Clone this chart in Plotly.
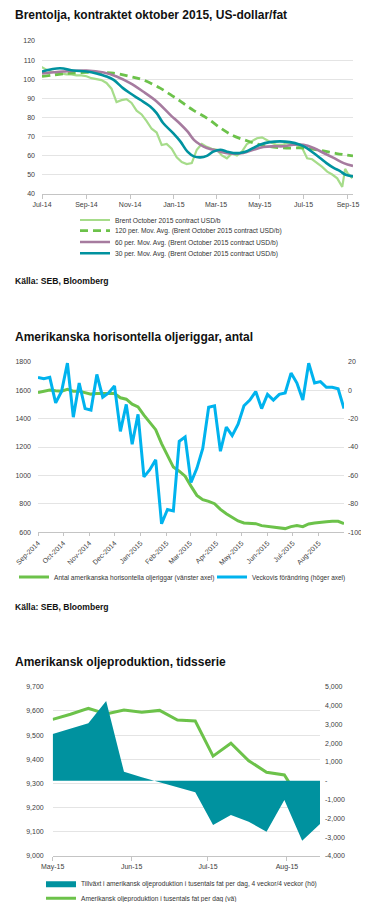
import plotly.graph_objects as go

W, H = 369, 910
OFF = 8                      # browser default body margin
FW, FH = W - OFF, H - 2 * OFF
FONT = "Liberation Sans, Arial, sans-serif"

# ---------------- Chart 1: Brent ----------------
brent_dates = ["2014-06-30","2014-07-07","2014-07-14","2014-07-21","2014-07-28","2014-08-04","2014-08-11",
    "2014-08-18","2014-08-25","2014-09-01","2014-09-08","2014-09-15","2014-09-22","2014-09-29","2014-10-06",
    "2014-10-13","2014-10-20","2014-10-27","2014-11-03","2014-11-10","2014-11-17","2014-11-24","2014-12-01",
    "2014-12-08","2014-12-15","2014-12-22","2014-12-29","2015-01-05","2015-01-12","2015-01-19","2015-01-26",
    "2015-02-02","2015-02-09","2015-02-16","2015-02-23","2015-03-02","2015-03-09","2015-03-16","2015-03-23",
    "2015-03-30","2015-04-06","2015-04-13","2015-04-20","2015-04-27","2015-05-04","2015-05-11","2015-05-18",
    "2015-05-25","2015-06-01","2015-06-08","2015-06-15","2015-06-22","2015-06-29","2015-07-06","2015-07-13",
    "2015-07-20","2015-07-27","2015-08-03","2015-08-10","2015-08-17","2015-08-24","2015-08-28","2015-08-31",
    "2015-09-07"]
brent_vals = [106.5,105,104,103.5,103,102.5,102.5,102,102,101.5,100.5,100,99.5,98,95,88,89,89.5,87.5,83.5,
    81.5,78,74,72,65.5,66,63.5,59,56.5,55.5,56,63,66,64.5,63.5,63,60,58.5,61,60,62,66,67.5,69,69.5,68,66.5,
    65.5,65.5,66.5,66,65.5,64,58.5,58,56,54,51.5,50,48,43.5,53,51,48]

ma120_dates = ["2014-07-01","2014-07-31","2014-09-01","2014-10-09","2014-11-01","2014-11-19","2014-12-13",
    "2014-12-31","2015-01-10","2015-01-19","2015-01-29","2015-02-16","2015-03-07","2015-03-25","2015-04-13",
    "2015-05-01","2015-05-20","2015-06-07","2015-07-01","2015-07-24","2015-08-16","2015-09-08"]
ma120_vals = [101.4,102.8,103.5,103.1,101.4,99.6,95.3,91,88.5,86,83.5,79.6,74.4,70.3,67.7,65.6,64.4,63.9,
    63.9,62.7,61,59.8]

ma60_dates = ["2014-07-01","2014-07-31","2014-09-01","2014-09-25","2014-10-13","2014-11-01","2014-11-19",
    "2014-12-08","2014-12-27","2015-01-10","2015-01-20","2015-01-29","2015-02-07","2015-02-16","2015-02-25",
    "2015-03-11","2015-03-25","2015-04-08","2015-04-22","2015-05-06","2015-05-20","2015-06-03","2015-06-17",
    "2015-07-01","2015-07-15","2015-07-29","2015-08-12","2015-08-26","2015-09-08"]
ma60_vals = [103,104,104.5,103.5,101.4,97.9,93.5,88.3,81.3,76.5,72.6,68.2,65.6,63.9,63,61.6,60.9,61.3,63,
    64.4,64.8,64.8,65.6,65.6,63.9,61.3,58.7,56,54.5]

ma30_dates = ["2014-07-01","2014-07-26","2014-08-14","2014-09-01","2014-09-15","2014-09-29","2014-10-09",
    "2014-10-22","2014-11-01","2014-11-15","2014-11-29","2014-12-08","2014-12-17","2014-12-31","2015-01-10",
    "2015-01-20","2015-01-29","2015-02-07","2015-02-16","2015-02-25","2015-03-07","2015-03-16","2015-03-25",
    "2015-04-03","2015-04-13","2015-04-22","2015-05-01","2015-05-15","2015-05-29","2015-06-12","2015-06-26",
    "2015-07-05","2015-07-15","2015-07-24","2015-08-02","2015-08-12","2015-08-21","2015-08-28","2015-09-08"]
ma30_vals = [104,105.7,104.5,104,103,101.4,99.6,95.3,92.6,89.2,85.7,82.2,77,71.7,67.4,62,59.5,59,59.8,62,
    63,62,61.3,61.3,62.2,64,65.6,67,67.4,67,65.6,64,61.3,58.7,56,53.5,51.8,50,49]

names1 = ["Brent October 2015 contract USD/b",
          "120 per. Mov. Avg. (Brent October 2015 contract USD/b)",
          "60 per. Mov. Avg. (Brent October 2015 contract USD/b)",
          "30 per. Mov. Avg. (Brent October 2015 contract USD/b)"]

# ---------------- Chart 2: rigs ----------------
rig_dates = ["2014-09-01","2014-09-08","2014-09-15","2014-09-22","2014-09-29","2014-10-06","2014-10-13",
    "2014-10-20","2014-10-27","2014-11-03","2014-11-10","2014-11-17","2014-11-24","2014-12-01","2014-12-08",
    "2014-12-15","2014-12-22","2014-12-29","2015-01-05","2015-01-12","2015-01-19","2015-01-26","2015-02-02",
    "2015-02-09","2015-02-16","2015-02-23","2015-03-02","2015-03-09","2015-03-16","2015-03-23","2015-03-30",
    "2015-04-06","2015-04-13","2015-04-20","2015-04-27","2015-05-04","2015-05-11","2015-05-18","2015-05-25",
    "2015-06-01","2015-06-08","2015-06-15","2015-06-22","2015-06-29","2015-07-06","2015-07-13","2015-07-20",
    "2015-07-27","2015-08-03","2015-08-10","2015-08-17","2015-08-24","2015-08-31"]
rig_count = [1583,1593,1600,1595,1593,1605,1593,1593,1583,1572,1576,1576,1574,1576,1546,1536,1501,1482,
    1424,1372,1322,1224,1141,1059,1030,995,925,860,829,818,801,761,731,703,680,666,661,661,647,642,635,630,
    626,640,647,640,659,666,673,675,677,677,661]
rig_change = [9,8,9,-9,-1,19,-19,5,-13,-14,11,-5,-2,3,-29,-10,-38,-17,-61,-56,-49,-94,-84,-85,-36,-33,
    -65,-55,-41,-12,-11,-43,-26,-32,-24,-11,-7,-1,-13,-3,-7,-3,-2,12,5,-7,19,5,6,2,2,1,-13]
rig_right_ticks = [-100,-80,-60,-40,-20,0,20]
rig_right_text = ["-100","-80","-60","-40","-20","0","20"]
names2 = ["Antal amerikanska horisontella oljeriggar (vänster axel)",
          "Veckovis förändring (höger axel)"]

# ---------------- Chart 3: production ----------------
prod_dates = ["2015-05-01","2015-05-08","2015-05-15","2015-05-22","2015-05-29","2015-06-05","2015-06-12",
    "2015-06-19","2015-06-26","2015-07-03","2015-07-10","2015-07-17","2015-07-24","2015-07-31","2015-08-07",
    "2015-08-14"]
prod_level = [9565,9586,9611,9587,9604,9594,9602,9562,9558,9413,9466,9394,9346,9335,9218,9218]
prod_growth = [2484,2780,3053,4240,479,181,-85,-319,-617,-2356,-1824,-2181,-2713,-1027,-3191,-2303]
prod_right_ticks = [-4000,-3000,-2000,-1000,0,1000,2000,3000,4000,5000]
prod_right_text = ["-4,000","-3,000","-2,000","-1,000","-","1,000","2,000","3,000","4,000","5,000"]
names3 = ["Tillväxt i amerikansk oljeproduktion i tusentals fat per dag, 4 veckor/4 veckor (hö)",
          "Amerikansk oljeproduktion i tusentals fat per dag (vä)"]

titles = ["Brentolja, kontraktet oktober 2015, US-dollar/fat",
          "Amerikanska horisontella oljeriggar, antal",
          "Amerikansk oljeproduktion, tidsserie"]
source = "Källa: SEB, Bloomberg"

C_LIGHT = "#A6DC8A"
C_GREEN = "#6CC24A"
C_MAUVE = "#A67B9F"
C_TEAL = "#00929F"
C_BLUE = "#00B3EE"

def px(x):
    return (x - OFF) / FW

def py(y):
    return 1 - (y - OFF) / FH

fig = go.Figure()

fig.add_trace(go.Scatter(x=brent_dates, y=brent_vals, name=names1[0], mode="lines",
    line=dict(color=C_LIGHT, width=2.2), xaxis="x", yaxis="y", legend="legend"))
fig.add_trace(go.Scatter(x=ma120_dates, y=ma120_vals, name=names1[1], mode="lines",
    line=dict(color=C_GREEN, width=2.8, dash="8px,5px", shape="spline"), xaxis="x", yaxis="y", legend="legend2"))
fig.add_trace(go.Scatter(x=ma60_dates, y=ma60_vals, name=names1[2], mode="lines",
    line=dict(color=C_MAUVE, width=2.6, shape="spline"), xaxis="x", yaxis="y", legend="legend3"))
fig.add_trace(go.Scatter(x=ma30_dates, y=ma30_vals, name=names1[3], mode="lines",
    line=dict(color=C_TEAL, width=2.6, shape="spline"), xaxis="x", yaxis="y", legend="legend4"))

fig.add_trace(go.Scatter(x=rig_dates, y=rig_count, name=names2[0], mode="lines",
    line=dict(color=C_GREEN, width=3), xaxis="x2", yaxis="y2", legend="legend5"))
fig.add_trace(go.Scatter(x=rig_dates, y=rig_change, name=names2[1], mode="lines",
    line=dict(color=C_BLUE, width=3), xaxis="x2", yaxis="y3", legend="legend6"))

fig.add_trace(go.Scatter(x=prod_dates, y=prod_growth, name=names3[0], mode="lines", fill="tozeroy",
    fillcolor=C_TEAL, line=dict(color=C_TEAL, width=0), xaxis="x3", yaxis="y5", legend="legend7"))
fig.add_trace(go.Scatter(x=prod_dates, y=prod_level, name=names3[1], mode="lines",
    line=dict(color=C_GREEN, width=3), xaxis="x3", yaxis="y4", legend="legend8"))

tickfont = dict(family=FONT, size=7, color="#404040")
grid = "#e4e4e4"
axline = "#c4c4c4"

layout = dict(
    width=FW, height=FH, autosize=False, margin=dict(l=0, r=0, t=0, b=0, autoexpand=False),
    paper_bgcolor="white", plot_bgcolor="white",
    font=dict(family=FONT, color="#333"),
    xaxis=dict(domain=[px(42), px(353)], anchor="y", type="date",
               range=["2014-07-01", "2015-09-08"], tick0="2014-07-01", dtick="M2", tickformat="%b-%y",
               ticks="outside", ticklen=4, tickcolor=axline, showline=True, linecolor=axline,
               showgrid=False, zeroline=False, tickfont=tickfont),
    yaxis=dict(domain=[py(193.6), py(41)], anchor="x", range=[40, 120], dtick=10, gridcolor=grid,
               zeroline=False, showline=False, ticks="", tickfont=tickfont, ticklabelstandoff=6),
    xaxis2=dict(domain=[px(38), px(344)], anchor="y2", type="date",
                range=["2014-09-01", "2015-08-31"], tick0="2014-09-01", dtick="M1", tickformat="%b-%Y",
                tickangle=-45, ticks="outside", ticklen=3, tickcolor=axline, showline=True,
                linecolor=axline, showgrid=False, zeroline=False, tickfont=tickfont),
    yaxis2=dict(domain=[py(532.3), py(361.7)], anchor="x2", range=[600, 1800], dtick=200,
                gridcolor=grid, zeroline=False, showline=False, ticks="", tickfont=tickfont,
                ticklabelstandoff=6),
    yaxis3=dict(overlaying="y2", side="right", anchor="x2", range=[-100, 20],
                tickvals=rig_right_ticks, ticktext=rig_right_text, showgrid=False, zeroline=False,
                showline=False, ticks="", tickfont=tickfont, ticklabelstandoff=3),
    xaxis3=dict(domain=[px(52.7), px(320)], anchor="y4", type="date",
                range=["2015-05-01", "2015-08-14"], tick0="2015-05-01", dtick="M1", tickformat="%b-%y",
                ticks="outside", ticklen=4, tickcolor=axline, showline=True, linecolor=axline,
                showgrid=False, zeroline=False, tickfont=tickfont),
    yaxis4=dict(domain=[py(856), py(686.7)], anchor="x3", range=[9000, 9700], dtick=100,
                tickformat=",", gridcolor=grid, zeroline=False, showline=False, ticks="",
                tickfont=tickfont, ticklabelstandoff=8),
    yaxis5=dict(overlaying="y4", side="right", anchor="x3", range=[-4000, 5000],
                tickvals=prod_right_ticks, ticktext=prod_right_text, showgrid=False, zeroline=False,
                showline=False, ticks="", tickfont=tickfont, ticklabelstandoff=4),
)

leg_pos = {"legend": (75, 220, 6.7), "legend2": (75, 230.7, 6.7), "legend3": (75, 242, 6.7),
           "legend4": (75, 253.3, 6.7),
           "legend5": (14, 577, 6.6), "legend6": (212, 577, 6.5),
           "legend7": (41, 883.3, 6.6), "legend8": (41, 898.3, 6.6)}
for k, (lx, ly, fs) in leg_pos.items():
    layout[k] = dict(x=px(lx), y=py(ly), xanchor="left", yanchor="middle",
                     font=dict(family=FONT, size=fs, color="#333"),
                     bgcolor="rgba(0,0,0,0)", borderwidth=0, itemwidth=30)

annotations = []
for t, y in zip(titles, [15, 337, 662]):
    annotations.append(dict(text=t, x=px(13), y=py(y), xref="paper", yref="paper", xanchor="left",
                            yanchor="middle", showarrow=False,
                            font=dict(family=FONT, size=12, color="#111", weight="bold")))
for y in [281.5, 606.5]:
    annotations.append(dict(text=source, x=px(13), y=py(y), xref="paper", yref="paper", xanchor="left",
                            yanchor="middle", showarrow=False,
                            font=dict(family=FONT, size=8.6, color="#111", weight="bold")))
layout["annotations"] = annotations
layout["showlegend"] = True

fig.update_layout(**layout)
fig.write_html("out.html")
